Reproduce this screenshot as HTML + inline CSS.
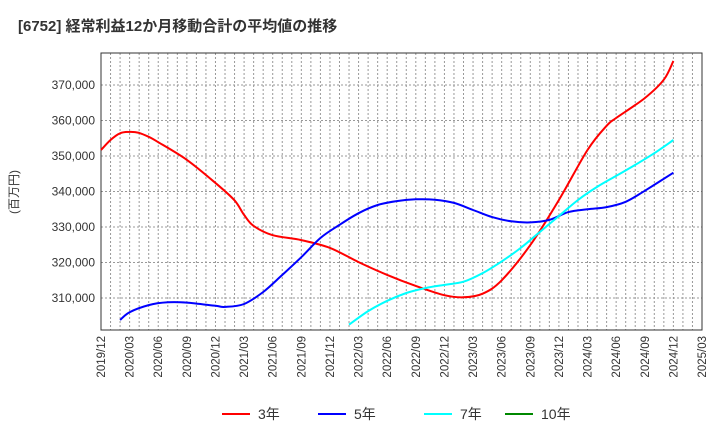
<!DOCTYPE html>
<html><head><meta charset="utf-8"><style>
body{margin:0;background:#fff;font-family:"Liberation Sans","Noto Sans CJK JP",sans-serif}
</style></head><body>
<svg id="c" width="720" height="440" xmlns="http://www.w3.org/2000/svg" font-family="Liberation Sans, Noto Sans CJK JP, sans-serif">
<text x="18" y="31" font-size="15" font-weight="bold" fill="#333">[6752]  経常利益12か月移動合計の平均値の推移</text>
<text transform="translate(18,192) rotate(-90)" text-anchor="middle" font-size="12" fill="#333">(百万円)</text>
</svg>
<script>
const xLabels=["2019/12","2020/03","2020/06","2020/09","2020/12","2021/03","2021/06","2021/09","2021/12","2022/03","2022/06","2022/09","2022/12","2023/03","2023/06","2023/09","2023/12","2024/03","2024/06","2024/09","2024/12","2025/03"];
const yTicks=[310000,320000,330000,340000,350000,360000,370000];
const m3=[[0,351700],[1,354500],[2,356400],[3,356800],[4,356500],[5,355400],[6,353900],[9,348900],[12,342400],[14,337500],[15,333400],[16,330300],[18,327700],[21,326300],[24,324100],[27,320100],[30,316500],[33,313400],[36,310800],[38,310200],[40,311200],[42,315000],[45,324900],[48,337600],[51,351700],[53,358500],[54,360700],[57,366300],[59,371500],[60,376800]];
const m5=[[2,303800],[3,306000],[5,308000],[7,308800],[9,308700],[12,307800],[13,307500],[15,308300],[17,311700],[19,316500],[21,321500],[23,326900],[25,330600],[27,333900],[29,336200],[31,337300],[33,337800],[35,337700],[37,336800],[39,334800],[41,332800],[43,331600],[45,331300],[47,332000],[49,334200],[51,335000],[53,335600],[55,337100],[57,340200],[60,345300]];
const m7=[[26,302500],[28,306300],[30,309200],[32,311400],[34,312800],[36,313700],[38,314600],[40,317000],[42,320300],[44,324100],[46,328600],[48,333100],[50,337600],[52,341300],[54,344400],[56,347500],[58,350800],[60,354500]];
const m10=[];
const L=101,R=702,T=53,B=330;
const X=m=>L+m*(R-L)/63;
const Y=v=>85+(370000-v)/10000*35.5;
const svg=document.getElementById('c');const NS="http://www.w3.org/2000/svg";
function mk(t,a,p){const e=document.createElementNS(NS,t);for(const k in a)e.setAttribute(k,a[k]);(p||svg).appendChild(e);return e;}
let g=mk('g',{});


for(let m=1;m<63;m++){mk('line',{x1:X(m),x2:X(m),y1:T,y2:B,stroke:'#999','stroke-dasharray':'2,2','stroke-width':1},g);}
yTicks.forEach(v=>{mk('line',{x1:L,x2:R,y1:Y(v),y2:Y(v),stroke:'#999','stroke-dasharray':'2,2'},g);
const t=mk('text',{x:L-6,y:Y(v)+4,'text-anchor':'end','font-size':12,fill:'#333'});


t.textContent=v.toLocaleString('en-US');});
xLabels.forEach((s,i)=>{const x=X(i*3);const t=mk('text',{transform:`translate(${x+4},${B+6}) rotate(-90)`,'text-anchor':'end','font-size':11.5,fill:'#333'});


t.textContent=s;});
const fr=mk('rect',{x:L,y:T,width:R-L,height:B-T,fill:'none',stroke:'#333','stroke-width':1});


function line(d,c,n){if(!d.length)return;const P=d.map(q=>[X(q[0]),Y(q[1])]);
let s='M'+P[0][0].toFixed(1)+','+P[0][1].toFixed(1);
for(let i=0;i<P.length-1;i++){const p0=P[Math.max(i-1,0)],p1=P[i],p2=P[i+1],p3=P[Math.min(i+2,P.length-1)];
const c1=[p1[0]+(p2[0]-p0[0])/6,p1[1]+(p2[1]-p0[1])/6],c2=[p2[0]-(p3[0]-p1[0])/6,p2[1]-(p3[1]-p1[1])/6];
s+='C'+c1.map(v=>v.toFixed(1)).join(',')+' '+c2.map(v=>v.toFixed(1)).join(',')+' '+p2[0].toFixed(1)+','+p2[1].toFixed(1);}
const p=mk('path',{d:s,fill:'none',stroke:c,'stroke-width':2,'stroke-linejoin':'round'});

}
line(m3,'#f00','series-3y');line(m5,'#00f','series-5y');line(m7,'#0ff','series-7y');line(m10,'#080','series-10y');
const leg=[['3年','#f00',222],['5年','#00f',318],['7年','#0ff',424],['10年','#080',505]];
leg.forEach(l=>{const g2=mk('g',{});


mk('line',{x1:l[2],x2:l[2]+28,y1:414,y2:414,stroke:l[1],'stroke-width':2},g2);
const t=mk('text',{x:l[2]+36,y:419,'font-size':14,fill:'#333'},g2);t.textContent=l[0];});
</script>
</body></html>
